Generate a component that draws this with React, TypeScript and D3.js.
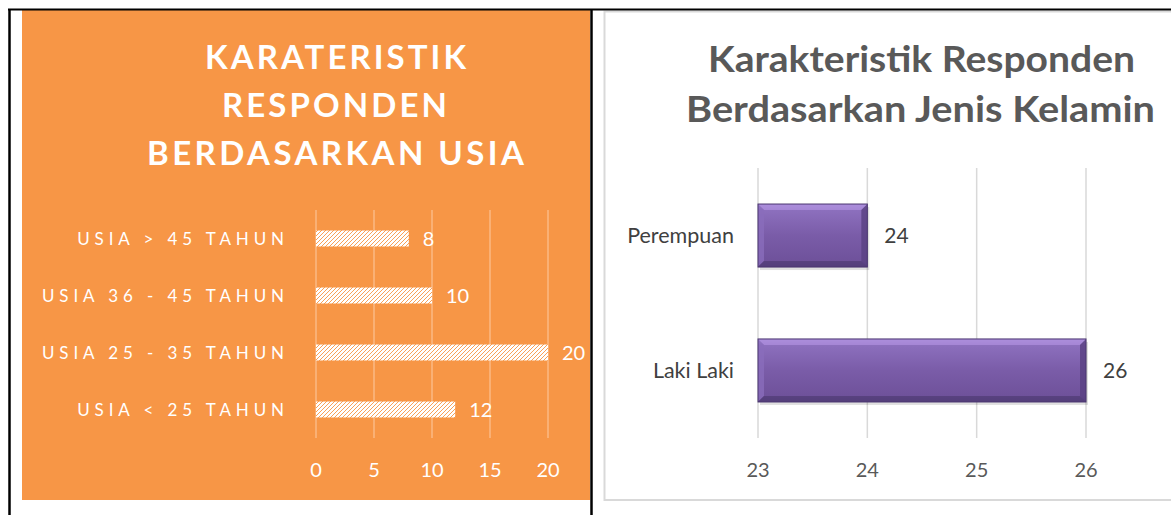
import React from 'react';
import * as d3 from 'd3';

const ageCategories = ['USIA > 45 TAHUN', 'USIA 36 - 45 TAHUN', 'USIA 25 - 35 TAHUN', 'USIA < 25 TAHUN'];
const ageValues = [8, 10, 20, 12];
const ageTicks = [0, 5, 10, 15, 20];
const leftTitle = ['KARATERISTIK', 'RESPONDEN', 'BERDASARKAN USIA'];

const genderCategories = ['Perempuan', 'Laki Laki'];
const genderValues = [24, 26];
const genderTicks = [23, 24, 25, 26];
const rightTitle = ['Karakteristik Responden', 'Berdasarkan Jenis Kelamin'];

const FONT = 'Lato, "Open Sans", sans-serif';
const ORANGE = '#F79646';

export default function App() {
  // left chart scales
  const xL = d3.scaleLinear().domain([0, 20]).range([316, 548]);
  const yL = d3.scaleBand<string>().domain(ageCategories).range([210, 438]).paddingInner(0.72).paddingOuter(0.36);

  // right chart scales
  const xR = d3.scaleLinear().domain([23, 26]).range([758, 1086]);
  const yR = d3.scaleBand<string>().domain(genderCategories).range([168, 438]).paddingInner(0.533).paddingOuter(0.267);

  const leftTitleLines = [
    { t: leftTitle[0], x0: 205, x1: 466, y: 69 },
    { t: leftTitle[1], x0: 222, x1: 447, y: 117 },
    { t: leftTitle[2], x0: 147, x1: 524, y: 165 },
  ];
  const rightTitleLines = [
    { t: rightTitle[0], x0: 708, x1: 1135, y: 72 },
    { t: rightTitle[1], x0: 686, x1: 1155, y: 122 },
  ];

  const bev = 6;

  return (
    <svg width={1171} height={515} style={{ position: 'absolute', left: 0, top: 0 }} fontFamily={FONT}>
      <defs>
        <pattern id="hatch" patternUnits="userSpaceOnUse" width={4} height={4}>
          <rect width={4} height={4} fill="#ffffff" />
          <path d="M-1,1 l2,-2 M0,4 l4,-4 M3,5 l2,-2" stroke={ORANGE} strokeWidth={0.9} />
        </pattern>
        <linearGradient id="purpleV" x1="0" y1="0" x2="0" y2="1">
          <stop offset="0" stopColor="#b89de6" />
          <stop offset="0.1" stopColor="#8c6fbd" />
          <stop offset="0.5" stopColor="#7a5ca8" />
          <stop offset="0.9" stopColor="#6f529b" />
          <stop offset="1" stopColor="#4f3874" />
        </linearGradient>
      </defs>
      <rect x={0} y={0} width={1171} height={515} fill="#ffffff" />

      {/* Left panel */}
      <rect x={22} y={10} width={568} height={490} fill={ORANGE} />
      {leftTitleLines.map((l, i) => (
        <text key={i} x={l.x0} y={l.y} fill="#ffffff" fontSize={33} fontWeight={700}
          textLength={l.x1 - l.x0} lengthAdjust="spacing">{l.t}</text>
      ))}
      {ageTicks.map((t) => (
        <line key={t} x1={xL(t)} x2={xL(t)} y1={210} y2={438} stroke="#fbb985" strokeWidth={1.5} />
      ))}
      {ageCategories.map((c, i) => (
        <g key={c}>
          <rect x={xL(0)} y={yL(c)!} width={xL(ageValues[i]) - xL(0)} height={yL.bandwidth()} fill="url(#hatch)" />
          <text x={xL(ageValues[i]) + 14} y={yL(c)! + yL.bandwidth() / 2} dy="0.36em" fill="#ffffff" fontSize={20}>{ageValues[i]}</text>
          <text x={289} y={yL(c)! + yL.bandwidth() / 2} dy="0.36em" fill="#ffffff" fontSize={17}
            textAnchor="end" letterSpacing={4.9}>{c}</text>
        </g>
      ))}
      {ageTicks.map((t) => (
        <text key={t} x={xL(t)} y={470} dy="0.36em" textAnchor="middle" fill="#ffffff" fontSize={20}>{t}</text>
      ))}

      {/* Right panel */}
      <rect x={604.5} y={11.5} width={600} height={488.5} fill="#ffffff" stroke="#d9d9d9" strokeWidth={2} />
      {rightTitleLines.map((l, i) => (
        <text key={i} x={l.x0} y={l.y} fill="#595959" fontSize={36} fontWeight={700}
          textLength={l.x1 - l.x0} lengthAdjust="spacingAndGlyphs">{l.t}</text>
      ))}
      {genderTicks.map((t) => (
        <line key={t} x1={xR(t)} x2={xR(t)} y1={168} y2={438} stroke="#d9d9d9" strokeWidth={1.5} />
      ))}
      {genderCategories.map((c, i) => {
        const x0 = xR(23);
        const x1 = xR(genderValues[i]);
        const y0 = yR(c)!;
        const h = yR.bandwidth();
        const y1 = y0 + h;
        return (
          <g key={c}>
            <rect x={x0 + 2} y={y0 + 3} width={x1 - x0} height={h} fill="#000" opacity={0.12} />
            <rect x={x0} y={y0} width={x1 - x0} height={h} fill="url(#purpleV)" />
            <polygon points={`${x0},${y0} ${x1},${y0} ${x1 - bev},${y0 + bev} ${x0 + bev},${y0 + bev}`} fill="#a98bd9" opacity={0.85} />
            <polygon points={`${x0},${y0} ${x0 + bev},${y0 + bev} ${x0 + bev},${y1 - bev} ${x0},${y1}`} fill="#8a6dbb" opacity={0.8} />
            <polygon points={`${x1},${y0} ${x1},${y1} ${x1 - bev},${y1 - bev} ${x1 - bev},${y0 + bev}`} fill="#5a4284" opacity={0.85} />
            <polygon points={`${x0},${y1} ${x0 + bev},${y1 - bev} ${x1 - bev},${y1 - bev} ${x1},${y1}`} fill="#55407b" opacity={0.85} />
            <rect x={x0} y={y0} width={x1 - x0} height={h} fill="none" stroke="#4a3670" strokeWidth={1} />
            <text x={x1 + 17} y={y0 + h / 2} dy="0.36em" fill="#404040" fontSize={21}>{genderValues[i]}</text>
            <text x={734} y={y0 + h / 2} dy="0.36em" fill="#404040" fontSize={21.5} textAnchor="end">{c}</text>
          </g>
        );
      })}
      {genderTicks.map((t) => (
        <text key={t} x={xR(t)} y={470} dy="0.36em" textAnchor="middle" fill="#595959" fontSize={20}>{t}</text>
      ))}

      {/* black frame lines */}
      <line x1={8} x2={1171} y1={9.5} y2={9.5} stroke="#000" strokeWidth={2} />
      <line x1={9.5} x2={9.5} y1={9} y2={515} stroke="#000" strokeWidth={2.5} />
      <line x1={591.5} x2={591.5} y1={9} y2={515} stroke="#000" strokeWidth={2.5} />
    </svg>
  );
}
